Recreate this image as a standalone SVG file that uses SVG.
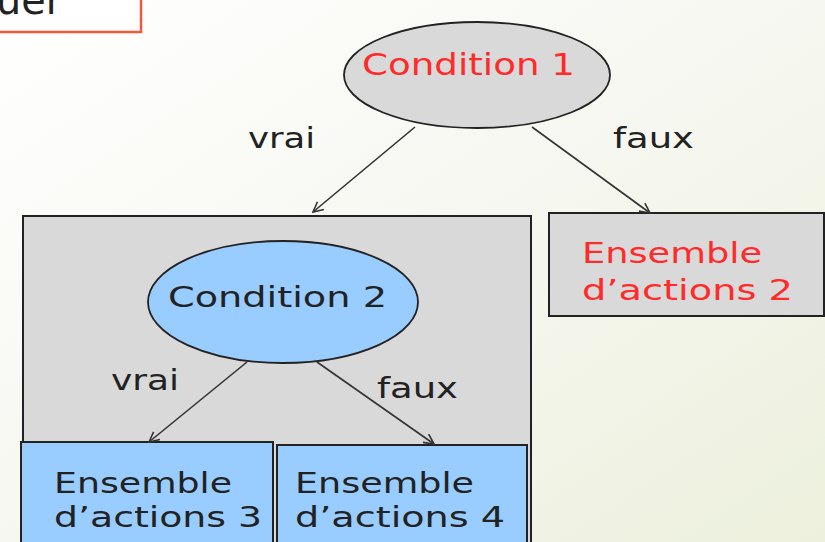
<svg xmlns="http://www.w3.org/2000/svg" width="825" height="542" viewBox="0 0 825 542">
<defs>
<linearGradient id="bg" x1="0" y1="0" x2="1" y2="1" gradientUnits="objectBoundingBox">
<stop offset="0" stop-color="#ffffff"/>
<stop offset="0.5" stop-color="#f6f7f0"/>
<stop offset="1" stop-color="#ecf0dc"/>
</linearGradient>
<marker id="arr" viewBox="0 0 12 12" refX="11" refY="6" markerWidth="12" markerHeight="12" markerUnits="userSpaceOnUse" orient="auto">
<path d="M1,1 L11,6 L1,11" fill="none" stroke="#333" stroke-width="1.6"/>
</marker>
<style>
.t{font-family:"DejaVu Sans","Liberation Sans",sans-serif;font-size:28px;}
.red{fill:#ff2a2a;}
.blk{fill:#222;}
.node{stroke:#222;stroke-width:2;}
.gray{fill:#d9d9d9;}
.blue{fill:#99ccff;}
.conn line{stroke:#333;stroke-width:1.6;marker-end:url(#arr);}
</style>
</defs>
<rect x="0" y="0" width="825" height="542" fill="url(#bg)"/>

<g id="title">
<rect x="-10" y="-10" width="151" height="42" fill="#ffffff" stroke="#f0583a" stroke-width="2.5"/>
<text x="-4" y="14" class="t blk" style="font-size:40px" textLength="66" lengthAdjust="spacingAndGlyphs">uer</text>
</g>

<g id="outer-box">
<rect x="23" y="216" width="508" height="340" class="node gray"/>
</g>

<g id="condition1">
<ellipse cx="477" cy="75" rx="133" ry="53" class="node gray" style="stroke-width:1.8"/>
<text x="362" y="75" class="t red" style="font-size:30px" textLength="213" lengthAdjust="spacingAndGlyphs">Condition 1</text>
</g>

<g id="actions2">
<rect x="549" y="213" width="275" height="103" class="node gray"/>
<text x="582" y="263" class="t red" textLength="180" lengthAdjust="spacingAndGlyphs">Ensemble</text>
<text x="582" y="300" class="t red" textLength="211" lengthAdjust="spacingAndGlyphs">d’actions 2</text>
</g>

<g id="condition2">
<ellipse cx="283" cy="302" rx="135" ry="61" class="node blue" style="stroke-width:1.8"/>
<text x="168" y="307" class="t blk" textLength="219" lengthAdjust="spacingAndGlyphs">Condition 2</text>
</g>

<g id="actions3">
<rect x="21" y="442" width="252" height="110" class="node blue"/>
<text x="54" y="493" class="t blk" textLength="178" lengthAdjust="spacingAndGlyphs">Ensemble</text>
<text x="54" y="527" class="t blk" textLength="208" lengthAdjust="spacingAndGlyphs">d’actions 3</text>
</g>

<g id="actions4">
<rect x="277" y="445" width="250" height="110" class="node blue"/>
<text x="295" y="493" class="t blk" textLength="179" lengthAdjust="spacingAndGlyphs">Ensemble</text>
<text x="295" y="527" class="t blk" textLength="210" lengthAdjust="spacingAndGlyphs">d’actions 4</text>
</g>

<g id="connectors" class="conn">
<line x1="415" y1="127" x2="313" y2="212"/>
<line x1="532" y1="127" x2="650" y2="213"/>
<line x1="247" y1="362" x2="149" y2="442"/>
<line x1="317" y1="362" x2="434" y2="444"/>
</g>

<g id="labels">
<text x="248" y="148" class="t blk" textLength="67" lengthAdjust="spacingAndGlyphs">vrai</text>
<text x="613" y="148" class="t blk" textLength="81" lengthAdjust="spacingAndGlyphs">faux</text>
<text x="111" y="390" class="t blk" textLength="68" lengthAdjust="spacingAndGlyphs">vrai</text>
<text x="377" y="398" class="t blk" textLength="81" lengthAdjust="spacingAndGlyphs">faux</text>
</g>
</svg>
